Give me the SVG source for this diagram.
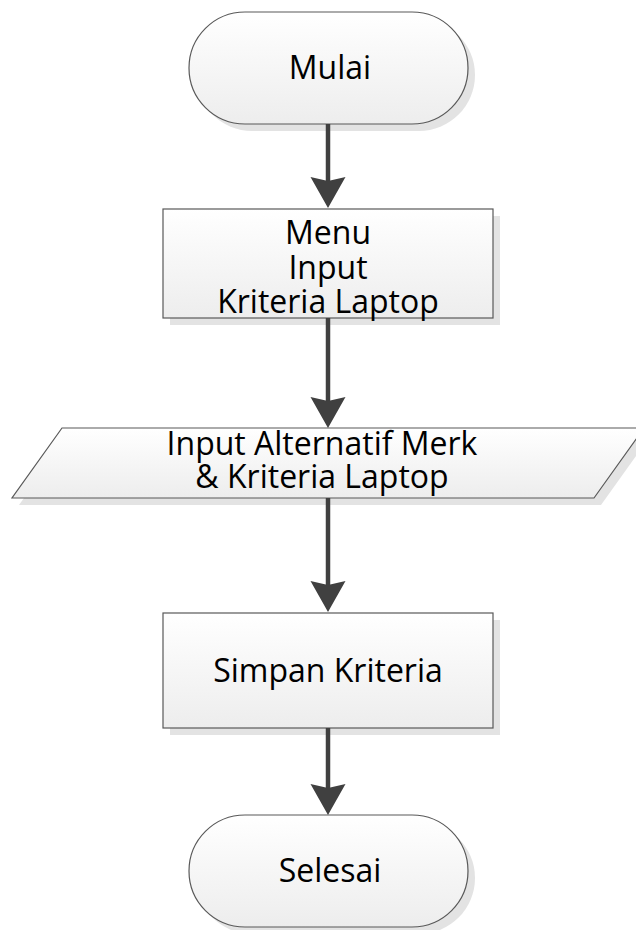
<svg xmlns="http://www.w3.org/2000/svg" width="636" height="930" viewBox="0 0 636 930">
<defs>
<linearGradient id="g" x1="0" y1="0" x2="0" y2="1">
<stop offset="0" stop-color="#ffffff"/>
<stop offset="1" stop-color="#ededed"/>
</linearGradient>
<path id="ah" d="M-17.5,-31 L0,0 L17.5,-31 L0,-27 Z"/>
</defs>
<style>
.shape{fill:url(#g);stroke:#595959;stroke-width:1.2}
.shadow{fill:#e3e3e3;stroke:none}
.t{font-family:"Open Sans","Lato",sans-serif;font-size:32px;fill:#000;text-anchor:middle}
.conn{stroke:#404040;stroke-width:4.5;fill:none}
.head{fill:#404040}
</style>
<rect width="636" height="930" fill="#fff"/>
<g id="n_mulai">
<rect class="shadow" x="196" y="19" width="279" height="112" rx="56" ry="56"/>
<rect class="shape" x="189" y="12" width="279" height="112" rx="56" ry="56"/>
<text class="t" x="330" y="79">Mulai</text>
</g>
<g id="n_menu">
<rect class="shadow" x="170" y="216" width="330" height="109"/>
<rect class="shape" x="163" y="209" width="330" height="109"/>
<text class="t" x="328" y="244">Menu</text>
<text class="t" x="328" y="279">Input</text>
<text class="t" x="328" y="313">Kriteria Laptop</text>
</g>
<g id="n_input">
<polygon class="shadow" points="69,435 651,435 601,505 19,505"/>
<polygon class="shape" points="62,428 644,428 594,498 12,498"/>
<text class="t" x="322" y="455">Input Alternatif Merk</text>
<text class="t" x="322" y="488">&amp; Kriteria Laptop</text>
</g>
<g id="n_simpan">
<rect class="shadow" x="170" y="620" width="330" height="115"/>
<rect class="shape" x="163" y="613" width="330" height="115"/>
<text class="t" x="328" y="682">Simpan Kriteria</text>
</g>
<g id="n_selesai">
<rect class="shadow" x="196" y="822" width="279" height="112" rx="56" ry="56"/>
<rect class="shape" x="189" y="815" width="279" height="112" rx="56" ry="56"/>
<text class="t" x="330" y="882">Selesai</text>
</g>
<g id="connectors">
<line class="conn" x1="328" y1="124" x2="328" y2="184"/>
<use href="#ah" class="head" x="328" y="208"/>
<line class="conn" x1="328" y1="318" x2="328" y2="404"/>
<use href="#ah" class="head" x="328" y="428"/>
<line class="conn" x1="328" y1="498" x2="328" y2="588"/>
<use href="#ah" class="head" x="328" y="612"/>
<line class="conn" x1="328" y1="728" x2="328" y2="791"/>
<use href="#ah" class="head" x="328" y="815"/>
</g>
</svg>
